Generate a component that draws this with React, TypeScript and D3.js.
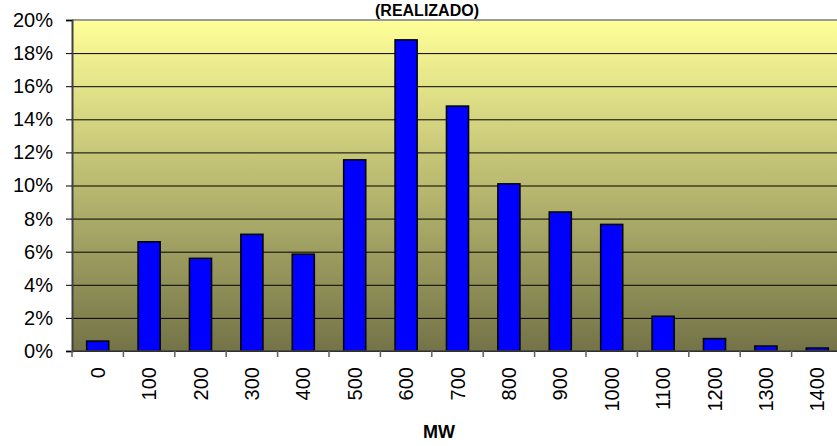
import React, { useEffect, useRef } from 'react';
import * as d3 from 'd3';

const categories = ['0', '100', '200', '300', '400', '500', '600', '700', '800', '900', '1000', '1100', '1200', '1300', '1400'];
const shares = [0.6, 6.6, 5.6, 7.05, 5.85, 11.55, 18.8, 14.8, 10.1, 8.4, 7.65, 2.1, 0.75, 0.3, 0.18];
const yTicks = [0, 2, 4, 6, 8, 10, 12, 14, 16, 18, 20];

const App: React.FC = () => {
	const svgRef = useRef<SVGSVGElement>(null);

	useEffect(() => {
		if (svgRef.current == null) return;
		const width = 837;
		const height = 446;
		const margin = { top: 20, right: -6, bottom: 95, left: 72 };
		const font = 'Arial, "Liberation Sans", sans-serif';

		const svg = d3.select(svgRef.current)
			.attr('width', width)
			.attr('height', height);
		svg.selectAll('*').remove();

		const x = d3.scaleBand<string>()
			.domain(categories)
			.range([margin.left, width - margin.right])
			.paddingInner(0.57)
			.paddingOuter(0.285);

		const y = d3.scaleLinear()
			.domain([0, 20])
			.range([height - margin.bottom, margin.top]);

		// background gradient
		const grad = svg.append('defs').append('linearGradient')
			.attr('id', 'bg')
			.attr('x1', 0).attr('y1', 0).attr('x2', 0).attr('y2', 1);
		grad.append('stop').attr('offset', '0%').attr('stop-color', '#ffff99');
		grad.append('stop').attr('offset', '100%').attr('stop-color', '#737348');

		svg.append('rect')
			.attr('x', margin.left)
			.attr('y', margin.top)
			.attr('width', width - margin.right - margin.left)
			.attr('height', y(0) - margin.top)
			.attr('fill', 'url(#bg)');

		// gridlines
		svg.append('g')
			.selectAll('line')
			.data(yTicks.slice(0, -1))
			.join('line')
			.attr('x1', margin.left)
			.attr('x2', width)
			.attr('y1', d => y(d) + 0.5)
			.attr('y2', d => y(d) + 0.5)
			.attr('stroke', '#000')
			.attr('stroke-width', 1);

		// top border
		svg.append('line')
			.attr('x1', margin.left).attr('x2', width)
			.attr('y1', margin.top).attr('y2', margin.top)
			.attr('stroke', '#9a9a9a').attr('stroke-width', 2);

		// bars
		svg.append('g')
			.selectAll('rect')
			.data(shares)
			.join('rect')
			.attr('x', (_, i) => x(categories[i]) as number)
			.attr('y', d => y(d))
			.attr('width', x.bandwidth())
			.attr('height', d => y(0) - y(d))
			.attr('fill', '#0000ff')
			.attr('stroke', '#000')
			.attr('stroke-width', 1.5);

		// y axis
		const yAxis = svg.append('g')
			.attr('transform', `translate(${margin.left},0)`)
			.call(d3.axisLeft(y).tickValues(yTicks).tickSize(6).tickFormat(d => `${d}%`));
		yAxis.select('.domain').attr('stroke', '#404040').attr('stroke-width', 2);
		yAxis.selectAll('.tick line').attr('stroke', '#000');
		yAxis.selectAll('.tick text')
			.attr('x', -19)
			.style('font-family', font)
			.style('font-size', '20px')
			.attr('fill', '#000');

		// x axis
		const step = x.step();
		const xAxis = svg.append('g')
			.attr('transform', `translate(0,${y(0)})`);
		xAxis.append('line')
			.attr('x1', margin.left).attr('x2', width)
			.attr('stroke', '#404040').attr('stroke-width', 1.5);
		xAxis.selectAll('line.tk')
			.data(categories)
			.join('line')
			.attr('class', 'tk')
			.attr('x1', d => (x(d) as number) + x.bandwidth() / 2 - step / 2)
			.attr('x2', d => (x(d) as number) + x.bandwidth() / 2 - step / 2)
			.attr('y1', 0).attr('y2', 6)
			.attr('stroke', '#606060').attr('stroke-width', 1.5);
		xAxis.selectAll('text')
			.data(categories)
			.join('text')
			.attr('transform', d => `translate(${(x(d) as number) + x.bandwidth() / 2},16) rotate(-90)`)
			.attr('text-anchor', 'end')
			.attr('dy', '0.35em')
			.style('font-family', font)
			.style('font-size', '20px')
			.text(d => d);

		// axis title
		svg.append('text')
			.attr('x', 439)
			.attr('y', 438)
			.attr('text-anchor', 'middle')
			.style('font-family', font)
			.style('font-size', '18px')
			.style('font-weight', 'bold')
			.text('MW');

		// chart title
		svg.append('text')
			.attr('x', 427)
			.attr('y', 16)
			.attr('text-anchor', 'middle')
			.style('font-family', font)
			.style('font-size', '16px')
			.style('font-weight', 'bold')
			.text('(REALIZADO)');
	}, []);

	return <svg ref={svgRef} style={{ position: 'absolute', left: 0, top: 0, display: 'block' }}></svg>;
};

export default App;
